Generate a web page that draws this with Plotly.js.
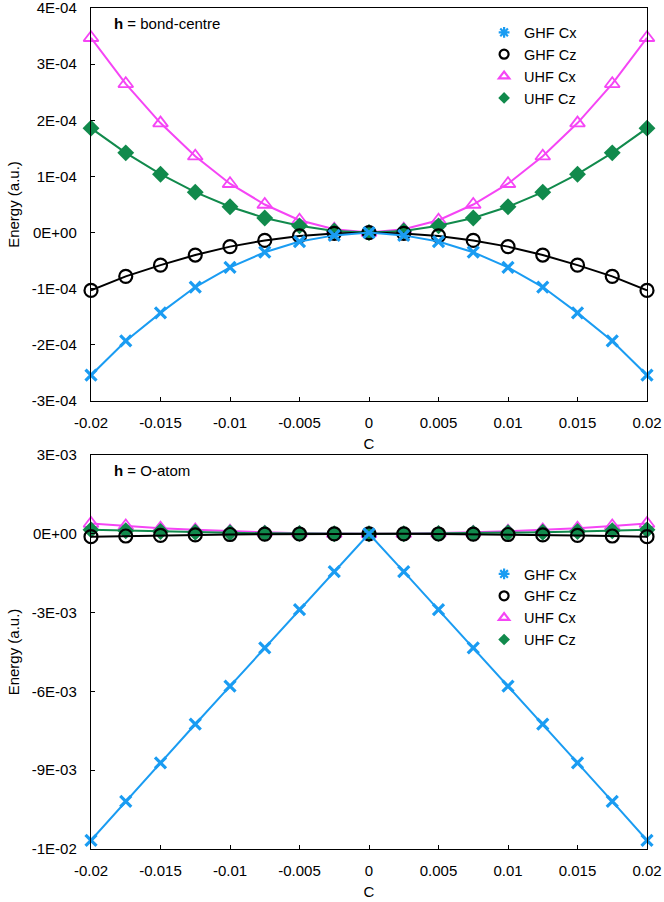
<!DOCTYPE html>
<html><head><meta charset="utf-8">
<script src="https://cdn.plot.ly/plotly-3.0.1.min.js"></script>
<style>html,body{margin:0;padding:0;background:#fff}#chart{width:664px;height:902px}</style>
</head><body><div id="chart"></div>
<script>
// C values
const cVals = [-0.02,-0.0175,-0.015,-0.0125,-0.01,-0.0075,-0.005,-0.0025,0,0.0025,0.005,0.0075,0.01,0.0125,0.015,0.0175,0.02];

// Top panel: h = bond-centre
const ghfCxBond = [-2.54e-4,-1.93e-4,-1.43e-4,-0.97e-4,-0.62e-4,-0.35e-4,-0.16e-4,-0.05e-4,0,-0.05e-4,-0.16e-4,-0.35e-4,-0.62e-4,-0.97e-4,-1.43e-4,-1.93e-4,-2.54e-4];
const ghfCzBond = [-1.03e-4,-0.78e-4,-0.58e-4,-0.40e-4,-0.25e-4,-0.14e-4,-0.06e-4,-0.015e-4,0,-0.015e-4,-0.06e-4,-0.14e-4,-0.25e-4,-0.40e-4,-0.58e-4,-0.78e-4,-1.03e-4];
const uhfCxBond = [3.47e-4,2.65e-4,1.95e-4,1.36e-4,0.87e-4,0.50e-4,0.22e-4,0.06e-4,0,0.06e-4,0.22e-4,0.50e-4,0.87e-4,1.36e-4,1.95e-4,2.65e-4,3.47e-4];
const uhfCzBond = [1.86e-4,1.42e-4,1.04e-4,0.72e-4,0.46e-4,0.26e-4,0.12e-4,0.03e-4,0,0.03e-4,0.12e-4,0.26e-4,0.46e-4,0.72e-4,1.04e-4,1.42e-4,1.86e-4];

// Bottom panel: h = O-atom
const ghfCxO = [-11.67e-3,-10.19e-3,-8.72e-3,-7.25e-3,-5.80e-3,-4.34e-3,-2.89e-3,-1.44e-3,0,-1.44e-3,-2.89e-3,-4.34e-3,-5.80e-3,-7.25e-3,-8.72e-3,-10.19e-3,-11.67e-3];
const ghfCzO = [-1.1e-4,-0.85e-4,-0.62e-4,-0.43e-4,-0.27e-4,-0.15e-4,-0.07e-4,-0.02e-4,0,-0.02e-4,-0.07e-4,-0.15e-4,-0.27e-4,-0.43e-4,-0.62e-4,-0.85e-4,-1.1e-4];
const uhfCxO = [3.9e-4,2.95e-4,2.15e-4,1.5e-4,0.96e-4,0.55e-4,0.24e-4,0.06e-4,0,0.06e-4,0.24e-4,0.55e-4,0.96e-4,1.5e-4,2.15e-4,2.95e-4,3.9e-4];
const uhfCzO = [1.5e-4,1.15e-4,0.85e-4,0.58e-4,0.37e-4,0.21e-4,0.09e-4,0.02e-4,0,0.02e-4,0.09e-4,0.21e-4,0.37e-4,0.58e-4,0.85e-4,1.15e-4,1.5e-4];

const seriesNames = ['GHF Cx','GHF Cz','UHF Cx','UHF Cz'];
const xTickVals = [-0.02,-0.015,-0.01,-0.005,0,0.005,0.01,0.015,0.02];
const xTickText = ['-0.02','-0.015','-0.01','-0.005','0','0.005','0.01','0.015','0.02'];
const yTopVals = [4e-4,3e-4,2e-4,1e-4,0,-1e-4,-2e-4,-3e-4];
const yTopText = ['4E-04','3E-04','2E-04','1E-04','0E+00','-1E-04','-2E-04','-3E-04'];
const yBotVals = [3e-3,0,-3e-3,-6e-3,-9e-3,-1.2e-2];
const yBotText = ['3E-03','0E+00','-3E-03','-6E-03','-9E-03','-1E-02'];

const FONT = 'Liberation Sans, Arial, Helvetica, sans-serif';
const styles = [
  {color:'#1a9cf2', symbol:'x-thin-open', size:11, lw:3.2},
  {color:'#000000', symbol:'circle-open', size:13, lw:2.2},
  {color:'#f545f5', symbol:'triangle-up-open', size:13, lw:1.8},
  {color:'#118a4c', symbol:'diamond', size:13, lw:0}
];
const drawOrder = [2,3,1,0];

function panel(ys, xa, ya, legendId){
  const out = [];
  drawOrder.forEach(i=>{
    const s = styles[i];
    out.push({
      x:cVals, y:ys[i], xaxis:xa, yaxis:ya, mode:'lines+markers', showlegend:false,
      cliponaxis:false,
      line:{color:s.color, width:2},
      marker:{symbol:s.symbol, size:s.size, color:s.color,
        line:{color:s.color, width:s.lw}}
    });
  });
  [0,1,2,3].forEach(i=>{
    const s = styles[i];
    out.push({
      x:[null], y:[null], xaxis:xa, yaxis:ya, mode:'markers', name:seriesNames[i],
      legend:legendId, showlegend:true,
      marker:{symbol: i===0 ? 'asterisk-open' : s.symbol, size:9, color:s.color,
        line:{color:s.color, width: i===3 ? 0 : 2.2}}
    });
  });
  return out;
}

const data = [].concat(
  panel([ghfCxBond,ghfCzBond,uhfCxBond,uhfCzBond],'x','y','legend'),
  panel([ghfCxO,ghfCzO,uhfCxO,uhfCzO],'x2','y2','legend2')
);

const xCommon = {
  range:[-0.02,0.02], tickmode:'array', tickvals:xTickVals, ticktext:xTickText,
  ticks:'inside', ticklen:4, tickwidth:1, tickcolor:'#000',
  showline:true, linecolor:'#000', linewidth:1.2, mirror:true,
  showgrid:false, zeroline:false, tickfont:{family:FONT,size:15,color:'#000'},
  ticklabelstandoff:8, ticklabeloverflow:'allow',
  title:{text:'C', font:{family:FONT,size:15,color:'#000'}, standoff:8}
};
const yCommon = {
  tickmode:'array', ticks:'inside', ticklen:4, tickwidth:1, tickcolor:'#000',
  showline:true, linecolor:'#000', linewidth:1.2, mirror:true,
  showgrid:false, zeroline:false, tickfont:{family:FONT,size:15,color:'#000'},
  ticklabelstandoff:10, ticklabeloverflow:'allow',
  title:{text:'Energy (a.u.)', font:{family:FONT,size:15,color:'#000'}, standoff:8}
};

const legendCommon = {
  font:{family:FONT,size:14.5,color:'#000'}, bgcolor:'rgba(0,0,0,0)', borderwidth:0,
  xanchor:'left', yanchor:'top', itemwidth:30, tracegroupgap:0, itemclick:false
};

const layout = {
  width:664, height:902,
  margin:{l:91, r:17, t:8, b:53},
  paper_bgcolor:'#fff', plot_bgcolor:'#fff',
  font:{family:FONT, size:15, color:'#000'},
  xaxis: Object.assign({}, xCommon, {anchor:'y', domain:[0,1]}),
  yaxis: Object.assign({}, yCommon, {anchor:'x', domain:[0.5327,1], range:[-3e-4,4e-4], tickvals:yTopVals, ticktext:yTopText}),
  xaxis2: Object.assign({}, xCommon, {anchor:'y2', domain:[0,1]}),
  yaxis2: Object.assign({}, yCommon, {anchor:'x2', domain:[0,0.4685], range:[-1.2e-2,3e-3], tickvals:yBotVals, ticktext:yBotText}),
  legend: Object.assign({}, legendCommon, {x:0.707, y:0.990}),
  legend2: Object.assign({}, legendCommon, {x:0.707, y:0.346}),
  annotations:[
    {xref:'paper', yref:'paper', x:0.038, y:0.982, xanchor:'left', yanchor:'middle', showarrow:false,
     text:'<b>h</b> = bond-centre', font:{family:FONT,size:15,color:'#000'}},
    {xref:'paper', yref:'paper', x:0.038, y:0.4505, xanchor:'left', yanchor:'middle', showarrow:false,
     text:'<b>h</b> = O-atom', font:{family:FONT,size:15,color:'#000'}}
  ],
  showlegend:true
};

Plotly.newPlot('chart', data, layout, {displayModeBar:false, staticPlot:true});
</script>
</body></html>
